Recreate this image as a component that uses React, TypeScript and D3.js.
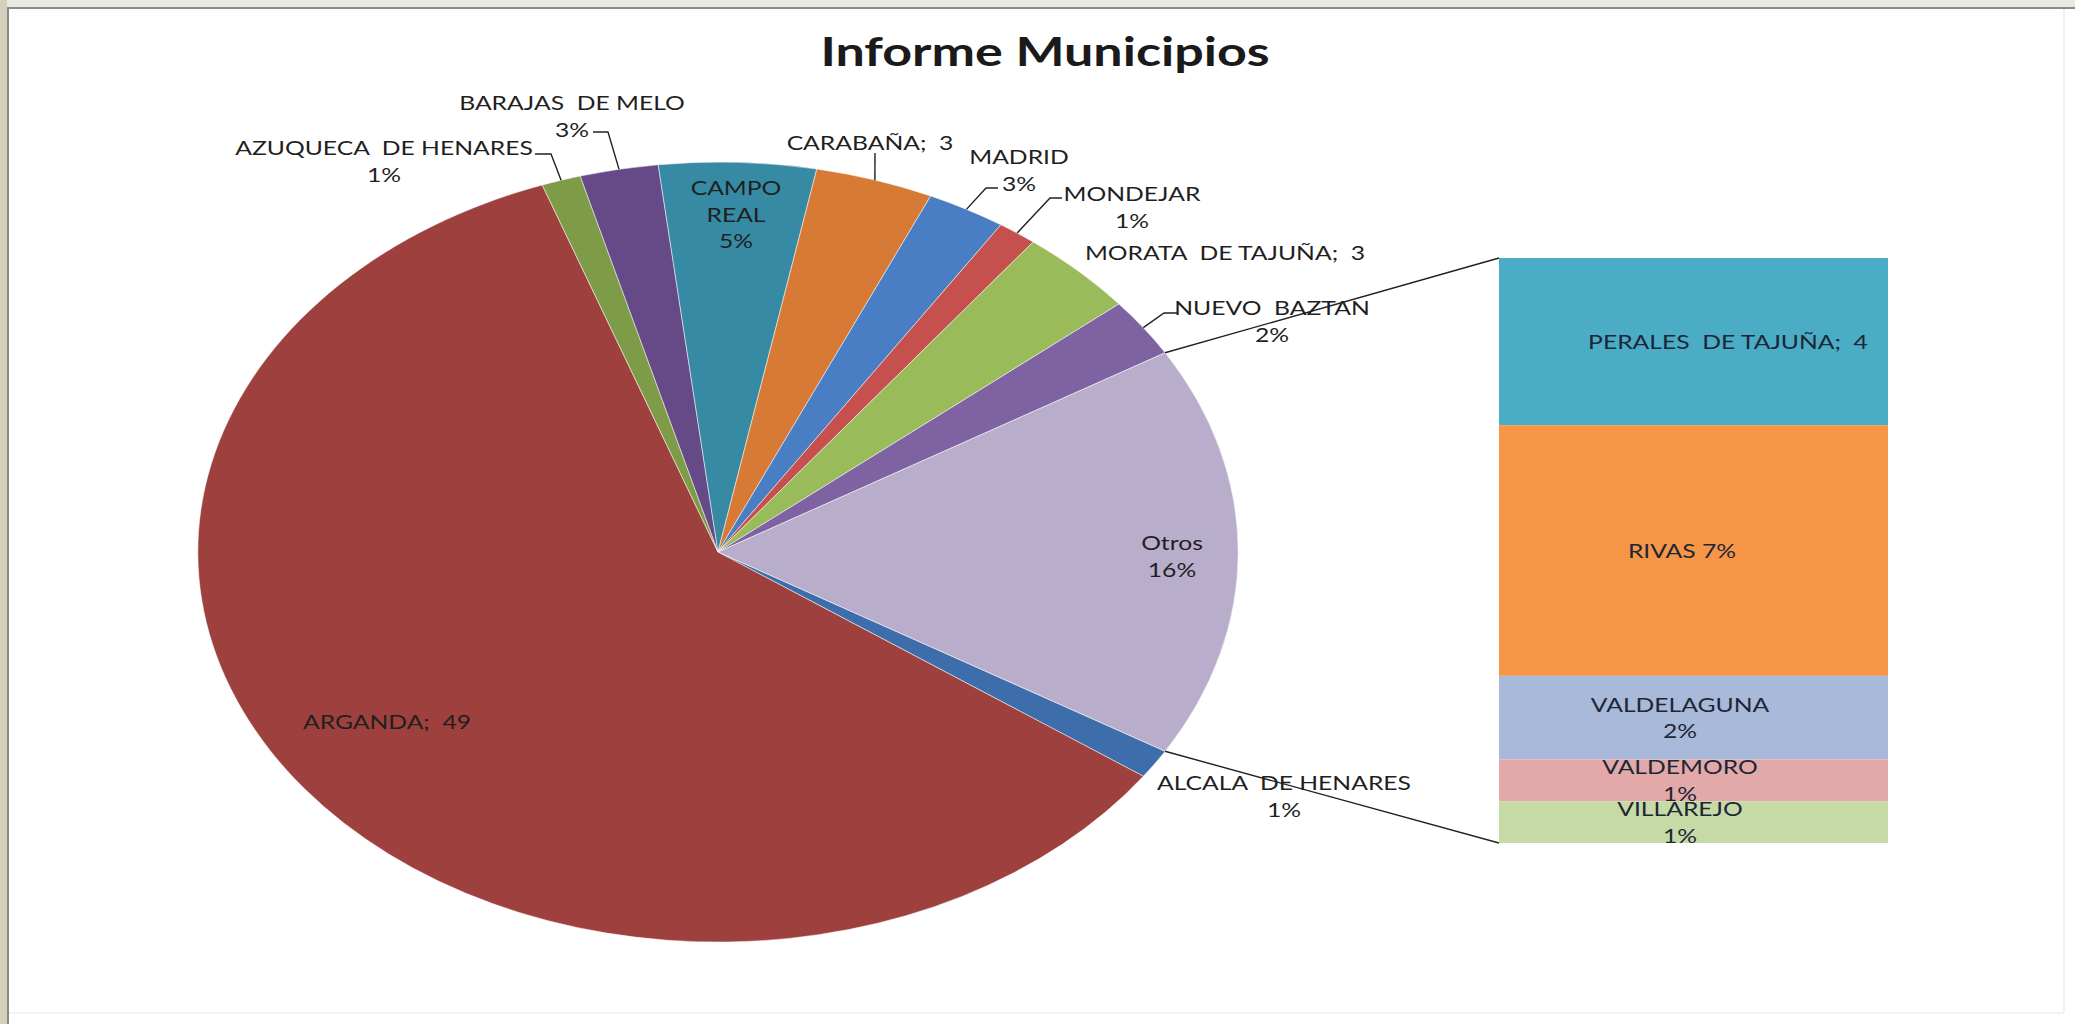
import React from "react";
import * as d3 from "d3";

// ---- data ----
const pieNames = [
  "ALCALA  DE HENARES",
  "ARGANDA",
  "AZUQUECA  DE HENARES",
  "BARAJAS  DE MELO",
  "CAMPO REAL",
  "CARABAÑA",
  "MADRID",
  "MONDEJAR",
  "MORATA  DE TAJUÑA",
  "NUEVO  BAZTAN",
  "Otros",
];
const pieMainValues = [1, 49, 1, 2, 4, 3, 2, 1, 3, 2];
const pieLabels = [
  ["ALCALA  DE HENARES", "1%"],
  ["ARGANDA;  49"],
  ["AZUQUECA  DE HENARES", "1%"],
  ["BARAJAS  DE MELO", "3%"],
  ["CAMPO", "REAL", "5%"],
  ["CARABAÑA;  3"],
  ["MADRID", "3%"],
  ["MONDEJAR", "1%"],
  ["MORATA  DE TAJUÑA;  3"],
  ["NUEVO  BAZTAN", "2%"],
  ["Otros", "16%"],
];
const barNames = ["PERALES  DE TAJUÑA", "RIVAS", "VALDELAGUNA", "VALDEMORO", "VILLAREJO"];
const barValues = [4, 6, 2, 1, 1];
const barLabels = [
  ["PERALES  DE TAJUÑA;  4"],
  ["RIVAS 7%"],
  ["VALDELAGUNA", "2%"],
  ["VALDEMORO", "1%"],
  ["VILLAREJO", "1%"],
];
const title = "Informe Municipios";

// ---- styles ----
const pieColors = [
  "#3D6DAA", "#9E413E", "#7E9C47", "#664A87", "#378AA3", "#D77A35",
  "#4A7EC4", "#C5504D", "#9ABB59", "#7F62A1", "#B8AECB",
];
const barColors = ["#4BACC6", "#F79646", "#A9B9D9", "#E2A9A8", "#C6DAA6"];

const W = 2075;
const H = 1024;
const cx = 718;
const cy = 552;
const rx = 520;
const ry = 390;
const barX0 = 1499;
const barX1 = 1888;
const barTop = 258;
const barBottom = 843;
const LH = 26.5;
const FONT = "Lato, 'Open Sans', sans-serif";
const SX = 1.3;

// label layout: centre of first line, optional leader start points
const pieLabelLayout: { x: number; y: number; leader?: number[][] }[] = [
  { x: 1284, y: 783 },
  { x: 387, y: 722 },
  { x: 384, y: 148, leader: [[535, 154], [551, 154]] },
  { x: 572, y: 103, leader: [[593, 132], [608, 132]] },
  { x: 736, y: 188 },
  { x: 870, y: 143, leader: [[875, 153]] },
  { x: 1019, y: 157, leader: [[998, 188], [986, 188]] },
  { x: 1132, y: 194, leader: [[1062, 198], [1050, 198]] },
  { x: 1225, y: 253 },
  { x: 1272, y: 308, leader: [[1178, 313], [1164, 313]] },
  { x: 1172, y: 543 },
];
const barLabelX = [1728, 1682, 1680, 1680, 1680];

const edge = (a: number): [number, number] => [cx + rx * Math.sin(a), cy - ry * Math.cos(a)];

function Label({ x, y, lines, fill = "#1f1f1f", size = 19 }: any) {
  return (
    <text
      transform={`translate(${x},${y}) scale(${SX},1)`}
      textAnchor="middle"
      fontFamily={FONT}
      fontSize={size}
      fill={fill}
      style={{ whiteSpace: "pre" }}
    >
      {lines.map((l: string, i: number) => (
        <tspan key={i} x={0} y={i * LH} dominantBaseline="central">
          {l}
        </tspan>
      ))}
    </text>
  );
}

export default function App() {
  const otros = d3.sum(barValues);
  const values = [...pieMainValues, otros];
  const total = d3.sum(values);
  const thetaO = (2 * Math.PI * otros) / total;
  const start = Math.PI / 2 + thetaO / 2;
  const arcs = d3
    .pie<number>()
    .sort(null)
    .value((d) => d)
    .startAngle(start)
    .endAngle(start + 2 * Math.PI)(values);
  const arcGen = d3.arc<d3.PieArcDatum<number>>().innerRadius(0).outerRadius(1);

  const y = d3.scaleLinear().domain([0, otros]).range([barTop, barBottom]);
  const cum = d3.cumsum(barValues);
  const segs = barValues.map((v, i) => ({ y0: y(cum[i] - v), y1: y(cum[i]) }));

  const otrosArc = arcs[arcs.length - 1];
  const pTop = edge(otrosArc.startAngle);
  const pBot = edge(otrosArc.endAngle);

  return (
    <div style={{ position: "fixed", left: 0, top: 0, width: W, height: H }}>
      <svg width={W} height={H} style={{ display: "block" }}>
        <rect x={0} y={0} width={W} height={H} fill="#ffffff" />
        <rect x={0} y={0} width={W} height={7} fill="#ECE9E2" />
        <rect x={0} y={0} width={7} height={H} fill="#D6CFBC" />
        <rect x={7} y={7} width={W - 7} height={2} fill="#8A8A8A" />
        <rect x={7} y={7} width={2} height={H - 7} fill="#8A8A8A" />
        <line x1={2064} y1={9} x2={2064} y2={1013} stroke="#F2F2F2" strokeWidth={2} />
        <line x1={9} y1={1013} x2={2064} y2={1013} stroke="#F2F2F2" strokeWidth={2} />

        <text
          transform={`translate(1045,66) scale(${SX},1)`}
          textAnchor="middle"
          fontFamily={FONT}
          fontWeight="bold"
          fontSize={40}
          fill="#1a1a1a"
        >
          {title}
        </text>

        <g transform={`translate(${cx},${cy}) scale(${rx},${ry})`}>
          {arcs.map((a, i) => (
            <path
              key={pieNames[i]}
              d={arcGen(a) || ""}
              fill={pieColors[i]}
              stroke="#ffffff"
              strokeOpacity={0.5}
              strokeWidth={1}
              vectorEffect="non-scaling-stroke"
            />
          ))}
        </g>

        {segs.map((s, i) => (
          <rect
            key={barNames[i]}
            x={barX0}
            y={s.y0}
            width={barX1 - barX0}
            height={s.y1 - s.y0}
            fill={barColors[i]}
          />
        ))}

        <line x1={pTop[0]} y1={pTop[1]} x2={barX0} y2={barTop} stroke="#222" strokeWidth={1.4} />
        <line x1={pBot[0]} y1={pBot[1]} x2={barX0} y2={barBottom} stroke="#222" strokeWidth={1.4} />

        {arcs.map((a, i) => {
          const lay = pieLabelLayout[i];
          if (!lay.leader) return null;
          const mid = (a.startAngle + a.endAngle) / 2;
          const e = edge(mid);
          const pts = [...lay.leader, e];
          return (
            <polyline
              key={"ld" + i}
              points={pts.map((p) => p.join(",")).join(" ")}
              fill="none"
              stroke="#222"
              strokeWidth={1.4}
            />
          );
        })}

        {pieLabels.map((lines, i) => (
          <Label key={"pl" + i} x={pieLabelLayout[i].x} y={pieLabelLayout[i].y} lines={lines} />
        ))}

        {barLabels.map((lines, i) => {
          const mid = (segs[i].y0 + segs[i].y1) / 2;
          const y0 = mid - ((lines.length - 1) * LH) / 2;
          return <Label key={"bl" + i} x={barLabelX[i]} y={y0} lines={lines} fill="#1c2636" />;
        })}
      </svg>
    </div>
  );
}
